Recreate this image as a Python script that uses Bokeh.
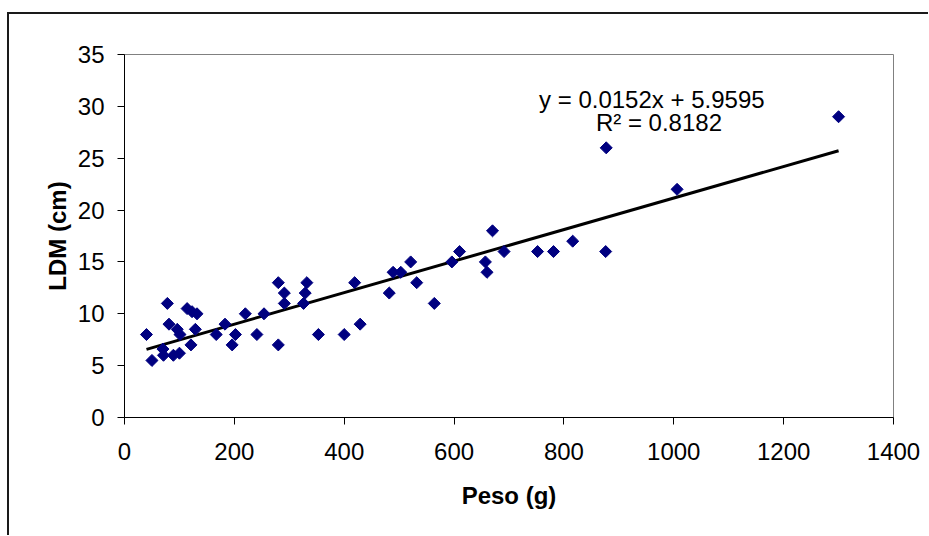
import numpy as np
from bokeh.plotting import figure
from bokeh.models import FixedTicker, Label, ColumnDataSource
from bokeh.embed import file_html
from bokeh.resources import INLINE

# Data: weight (g) vs LDM (cm)
peso = [40, 50, 78, 81, 70, 71, 89, 100, 96, 101, 114, 123, 132, 121, 129,
        167, 183, 196, 202, 220, 241, 254, 280, 291, 291, 280, 332, 329, 326,
        353, 400, 429, 419, 482, 489, 503, 521, 532, 564, 596, 610, 670, 657,
        660, 691, 752, 781, 816, 876, 877, 1006, 1300]
ldm = [8, 5.5, 11, 9, 6.6, 6, 6, 6.2, 8.5, 8, 10.5, 10.2, 10, 7, 8.5,
       8, 9, 7, 8, 10, 8, 10, 13, 12, 11, 7, 13, 12, 11,
       8, 8, 9, 13, 12, 14, 14, 15, 13, 11, 15, 16, 18, 15,
       14, 16, 16, 16, 17, 16, 26, 22, 29]

slope = 0.0152
intercept = 5.9595
r2 = 0.8182

x_ticks = [0, 200, 400, 600, 800, 1000, 1200, 1400]
y_ticks = [0, 5, 10, 15, 20, 25, 30, 35]

FONT = "Liberation Sans"

p = figure(frame_width=769, frame_height=363,
           min_border_left=115, min_border_right=35,
           min_border_top=40, min_border_bottom=118,
           x_range=(0, 1400), y_range=(0, 35),
           output_backend="svg", toolbar_location=None,
           background_fill_color="white", border_fill_color="white")
p.styles = {"border-left": "2px solid #1a1a1a", "border-top": "2px solid #1a1a1a",
            "margin-top": "12px", "margin-left": "7px"}

p.xgrid.visible = False
p.ygrid.visible = False
p.outline_line_color = "#808080"
p.outline_line_width = 1

for ax in (p.xaxis[0], p.yaxis[0]):
    ax.axis_line_color = "black"
    ax.major_tick_line_color = "black"
    ax.major_tick_out = 7
    ax.major_tick_in = 0
    ax.minor_tick_line_color = None
    ax.major_label_text_font = FONT
    ax.major_label_text_font_size = "24px"
    ax.major_label_text_color = "black"
    ax.axis_label_text_font = FONT
    ax.axis_label_text_font_size = "24px"
    ax.axis_label_text_font_style = "bold"
    ax.axis_label_text_color = "black"

p.xaxis[0].ticker = FixedTicker(ticks=x_ticks)
p.yaxis[0].ticker = FixedTicker(ticks=y_ticks)
p.xaxis[0].axis_label = "Peso (g)"
p.yaxis[0].axis_label = "LDM (cm)"
p.xaxis[0].major_label_standoff = 18
p.xaxis[0].axis_label_standoff = 19
p.yaxis[0].major_label_standoff = 13
p.yaxis[0].axis_label_standoff = 4

# trend line from the regression coefficients over the data range
xs = np.array([min(peso), max(peso)], dtype=float)
ys = slope * xs + intercept
p.line(xs, ys, line_color="black", line_width=3)

src = ColumnDataSource(dict(x=peso, y=ldm))
p.scatter("x", "y", source=src, marker="square", size=8.5, angle=np.pi / 4,
          fill_color="#000080", line_color="#000080")

eq = Label(x=960, y=30.66, text=f"y = {slope}x + {intercept}",
           text_font=FONT, text_font_size="24px", text_color="black",
           text_align="center", text_baseline="middle")
rr = Label(x=973, y=28.44, text=f"R\u00b2 = {r2}",
           text_font=FONT, text_font_size="24px", text_color="black",
           text_align="center", text_baseline="middle")
p.add_layout(eq)
p.add_layout(rr)

open("out.html", "w").write(file_html(p, INLINE))
